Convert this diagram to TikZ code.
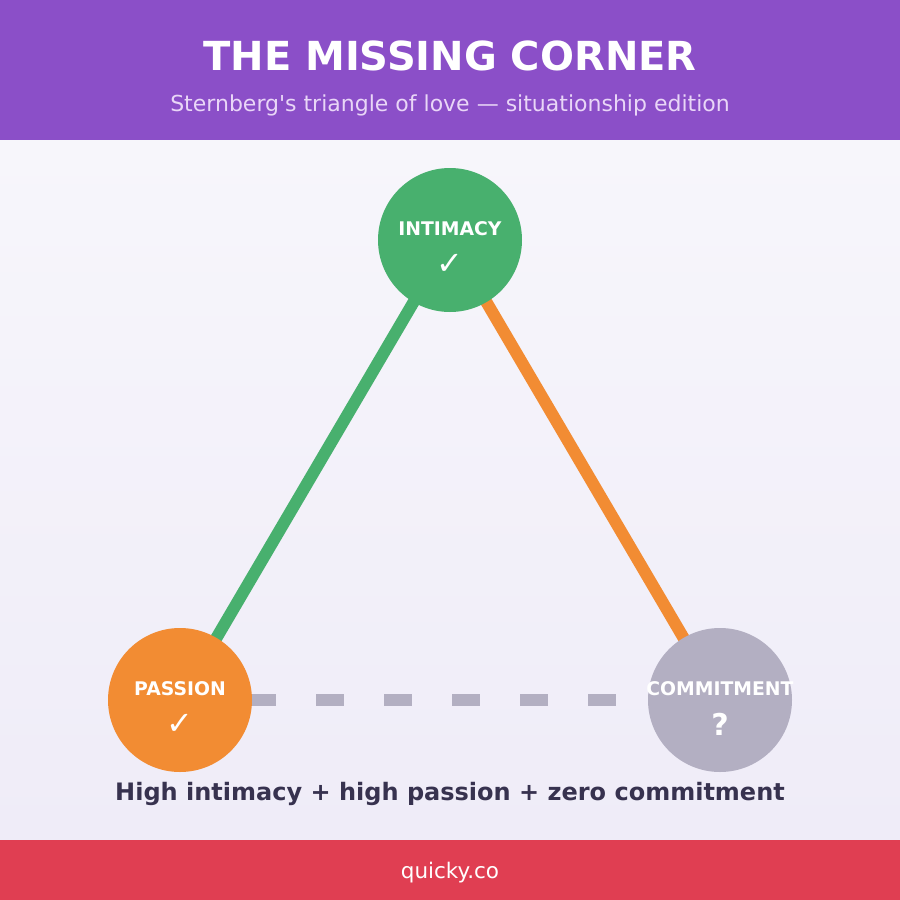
\documentclass[tikz,border=0pt]{standalone}
\usepackage{fontspec}
\setmainfont{DejaVu Sans}[Ligatures=TeXOff]
\pgfdeclarelayer{bg}
\pgfdeclarelayer{lines}
\pgfsetlayers{bg,lines,main}
\definecolor{hdr}{HTML}{8B4FC8}
\definecolor{ftr}{HTML}{E03E52}
\definecolor{grn}{HTML}{48B06E}
\definecolor{org}{HTML}{F28C33}
\definecolor{gry}{HTML}{B3AFC2}
\definecolor{ink}{HTML}{37324F}
\definecolor{subt}{HTML}{E9D6F7}
\definecolor{bgtop}{HTML}{F7F6FB}
\definecolor{bgbot}{HTML}{EFECF8}
\tikzset{
  corner/.style={circle, minimum size=144pt, inner sep=0pt, draw=none},
  lbl/.style={text=white, font=\fontsize{18.8}{20}\selectfont\bfseries, anchor=base, inner sep=0pt},
  tickmark/.style={text=white, font=\fontsize{32}{34}\selectfont, anchor=base, inner sep=0pt},
  edgeline/.style={line width=12pt},
}
\begin{document}
\begin{tikzpicture}[x=1pt,y=-1pt]
\useasboundingbox (0,0) rectangle (900,900);
\begin{pgfonlayer}{bg}
\shade[top color=bgtop, bottom color=bgbot] (0,140) rectangle (900,840);
\fill[hdr] (0,0) rectangle (900,140);
\fill[ftr] (0,840) rectangle (900,900);
\end{pgfonlayer}
\node[anchor=base, text=white, font=\fontsize{40}{44}\selectfont\bfseries, inner sep=0pt] (title) at (450,70) {THE MISSING CORNER};
\node[anchor=base, text=subt, font=\fontsize{22}{26}\selectfont, inner sep=0pt] (sub) at (450,111) {Sternberg's triangle of love — situationship edition};
\node[corner, fill=grn] (int) at (450,240) {};
\node[corner, fill=org] (pas) at (180,700) {};
\node[corner, fill=gry] (com) at (720,700) {};
\begin{pgfonlayer}{lines}
\draw[edgeline, grn] (pas.center) -- (int.center);
\draw[edgeline, org] (int.center) -- (com.center);
\draw[edgeline, gry, dash pattern=on 28pt off 40pt] (pas.center) -- (com.center);
\end{pgfonlayer}
\node[lbl] (intl) at (450,235) {INTIMACY};
\node[tickmark] (intm) at (450,274) {✓};
\node[lbl] (pasl) at (180,695) {PASSION};
\node[tickmark] (pasm) at (180,734) {✓};
\node[lbl] (coml) at (720,695) {COMMITMENT};
\node[anchor=base, text=white, font=\fontsize{30}{32}\selectfont\bfseries, inner sep=0pt] (comm) at (720,735) {?};
\node[anchor=base, text=ink, font=\fontsize{24}{28}\selectfont\bfseries, inner sep=0pt] (summ) at (450,800) {High intimacy + high passion + zero commitment};
\node[anchor=base, text=white, font=\fontsize{21.5}{24}\selectfont, inner sep=0pt] (foot) at (450,878) {quicky.co};
\end{tikzpicture}
\end{document}
